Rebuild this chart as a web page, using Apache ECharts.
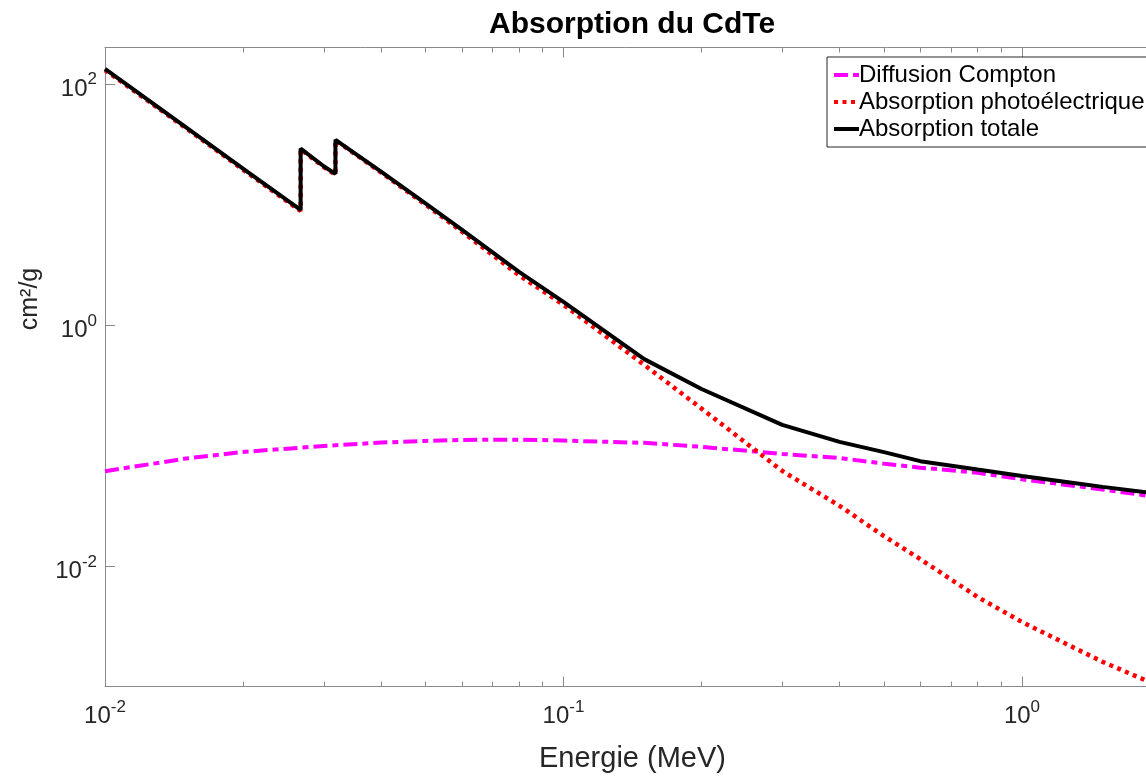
<!DOCTYPE html>
<html><head><meta charset="utf-8">
<script src="https://cdn.jsdelivr.net/npm/echarts@6/dist/echarts.min.js"></script>
<style>html,body{margin:0;padding:0;background:#fff}#c{width:1146px;height:776px}</style>
</head><body><div id="c"></div>
<script>
// ---- data ----
const seriesNames = ['Diffusion Compton', 'Absorption photoélectrique', 'Absorption totale'];
// energies (MeV); K edges of Cd (0.026711) and Te (0.031814) appear twice
const edgeEnergy = [0.01, 0.015, 0.02, 0.026711, 0.026711, 0.03, 0.031814, 0.031814, 0.04, 0.05, 0.06, 0.08, 0.1, 0.15, 0.2, 0.3, 0.4, 0.5, 0.6, 0.8, 1, 1.25, 1.5, 2];
const totalValues = [133, 43.6, 19.8, 9.0, 29, 20.7, 17.9, 34.3, 18.7, 10.2, 6.18, 2.75, 1.55, 0.52, 0.294, 0.148, 0.107, 0.088, 0.074, 0.063, 0.0558, 0.0498, 0.0453, 0.0396];
const photoValues = [130, 43, 19.4, 8.8, 28.7, 20.4, 17.6, 34, 18.4, 9.95, 5.95, 2.58, 1.47, 0.466, 0.202, 0.0614, 0.0315, 0.0177, 0.0114, 0.00553, 0.00343, 0.00225, 0.0016, 0.001];
const comptonEnergy = [0.01, 0.015, 0.02, 0.03, 0.04, 0.05, 0.06, 0.08, 0.1, 0.15, 0.2, 0.3, 0.4, 0.5, 0.6, 0.8, 1, 1.25, 1.5, 2];
const comptonValues = [0.0611, 0.0778, 0.0883, 0.099, 0.1055, 0.109, 0.111, 0.1117, 0.1097, 0.105, 0.0973, 0.085, 0.0787, 0.0706, 0.0654, 0.0594, 0.0523, 0.047, 0.0431, 0.037];
// ticks
const xMajorTicks = [0.01, 0.1, 1];
const xMinorTicks = [0.02, 0.03, 0.04, 0.05, 0.06, 0.07, 0.08, 0.09, 0.2, 0.3, 0.4, 0.5, 0.6, 0.7, 0.8, 0.9, 2];
const yMajorTicks = [0.01, 1, 100];
const titleText = 'Absorption du CdTe';
const xName = 'Energie (MeV)';
const yName = 'cm²/g';

// ---- chart ----
const FONT = '"Liberation Sans", Arial, sans-serif';
const AX = '#8a8a8a';
const TXT = '#262626';
function pairs(xs, ys) { return xs.map((x, i) => [x, ys[i]]); }
function pow10(v) { return '{b|10}{s|' + Math.round(Math.log10(v)) + '}'; }
const rich = {
  b: { fontSize: 24, fontFamily: FONT, color: TXT, lineHeight: 24, verticalAlign: 'bottom' },
  s: { fontSize: 17, fontFamily: FONT, color: TXT, lineHeight: 17, verticalAlign: 'bottom', padding: [0, 0, 13, 0] }
};
const X_MIN = 0.01, X_MAX = 2, Y_MIN = 0.001, Y_MAX = 200;

function xAxisCfg(pos, ticks, len, withLine, withLabels) {
  return {
    type: 'log', logBase: 10, min: X_MIN, max: X_MAX, position: pos, gridIndex: 0,
    axisLine: { show: withLine, onZero: false, lineStyle: { color: AX, width: 1 } },
    axisTick: { show: true, inside: true, length: len, customValues: ticks, lineStyle: { color: AX, width: 1 } },
    axisLabel: withLabels ? { show: true, customValues: ticks, formatter: pow10, rich: rich, margin: 18, hideOverlap: false } : { show: false },
    splitLine: { show: false }, minorTick: { show: false }, minorSplitLine: { show: false },
    name: withLabels ? xName : '', nameLocation: 'middle', nameGap: 58,
    nameTextStyle: { fontSize: 29, fontFamily: FONT, color: TXT }
  };
}

const chart = echarts.init(document.getElementById('c'), null, { renderer: 'canvas' });
chart.setOption({
  animation: false,
  backgroundColor: '#fff',
  title: {
    text: titleText, left: 484, top: 5,
    textStyle: { fontSize: 30, fontWeight: 'bold', fontFamily: FONT, color: '#000' }
  },
  legend: {
    data: seriesNames, orient: 'vertical', left: 827, top: 57,
    padding: [6, 30, 6, 5], itemGap: 3, itemWidth: 25, itemHeight: 14,
    borderColor: '#262626', borderWidth: 1, backgroundColor: '#fff',
    itemStyle: { color: 'transparent', borderColor: 'transparent', borderWidth: 0, opacity: 0 },
    lineStyle: { width: 4 },
    textStyle: { fontSize: 24, fontFamily: FONT, color: '#000', padding: [0, 0, 0, -5] }
  },
  grid: { left: 105, top: 47.5, width: 1055, height: 639, containLabel: false, outerBoundsMode: 'none' },
  xAxis: [
    xAxisCfg('bottom', xMajorTicks, 10, true, true),
    xAxisCfg('bottom', xMinorTicks, 5, false, false),
    xAxisCfg('top', xMajorTicks, 10, true, false),
    xAxisCfg('top', xMinorTicks, 5, false, false)
  ],
  yAxis: [
    {
      type: 'log', logBase: 10, min: Y_MIN, max: Y_MAX, position: 'left',
      axisLine: { show: true, onZero: false, lineStyle: { color: AX, width: 1 } },
      axisTick: { show: true, inside: true, length: 10, customValues: yMajorTicks, lineStyle: { color: AX } },
      axisLabel: { show: true, customValues: yMajorTicks, formatter: pow10, rich: rich, margin: 8, padding: [11, 0, 0, 0], hideOverlap: false },
      splitLine: { show: false },
      name: yName, nameLocation: 'middle', nameGap: 62,
      nameTextStyle: { fontSize: 25, fontFamily: FONT, color: TXT, padding: [0, 0, 0, 136] }
    },
    {
      type: 'log', logBase: 10, min: Y_MIN, max: Y_MAX, position: 'right',
      axisLine: { show: true, onZero: false, lineStyle: { color: AX, width: 1 } },
      axisTick: { show: true, inside: true, length: 10, customValues: yMajorTicks, lineStyle: { color: AX } },
      axisLabel: { show: false }, splitLine: { show: false }
    }
  ],
  series: [
    {
      name: seriesNames[0], type: 'line', xAxisIndex: 0, yAxisIndex: 0,
      data: pairs(comptonEnergy, comptonValues), symbol: 'none', showSymbol: false, clip: true,
      lineStyle: { color: '#ff00ff', width: 4, type: [14, 5, 6, 5], cap: 'butt' },
      itemStyle: { color: '#ff00ff' }
    },
    {
      name: seriesNames[1], type: 'line', xAxisIndex: 0, yAxisIndex: 0,
      data: pairs(edgeEnergy, photoValues), symbol: 'none', showSymbol: false, clip: true,
      lineStyle: { color: '#ff0000', width: 4.5, type: [4, 4.5], cap: 'butt' },
      itemStyle: { color: '#ff0000' }
    },
    {
      name: seriesNames[2], type: 'line', xAxisIndex: 0, yAxisIndex: 0,
      data: pairs(edgeEnergy, totalValues), symbol: 'none', showSymbol: false, clip: true,
      lineStyle: { color: '#000000', width: 4 },
      itemStyle: { color: '#000000' }
    }
  ]
});
</script>
</body></html>
